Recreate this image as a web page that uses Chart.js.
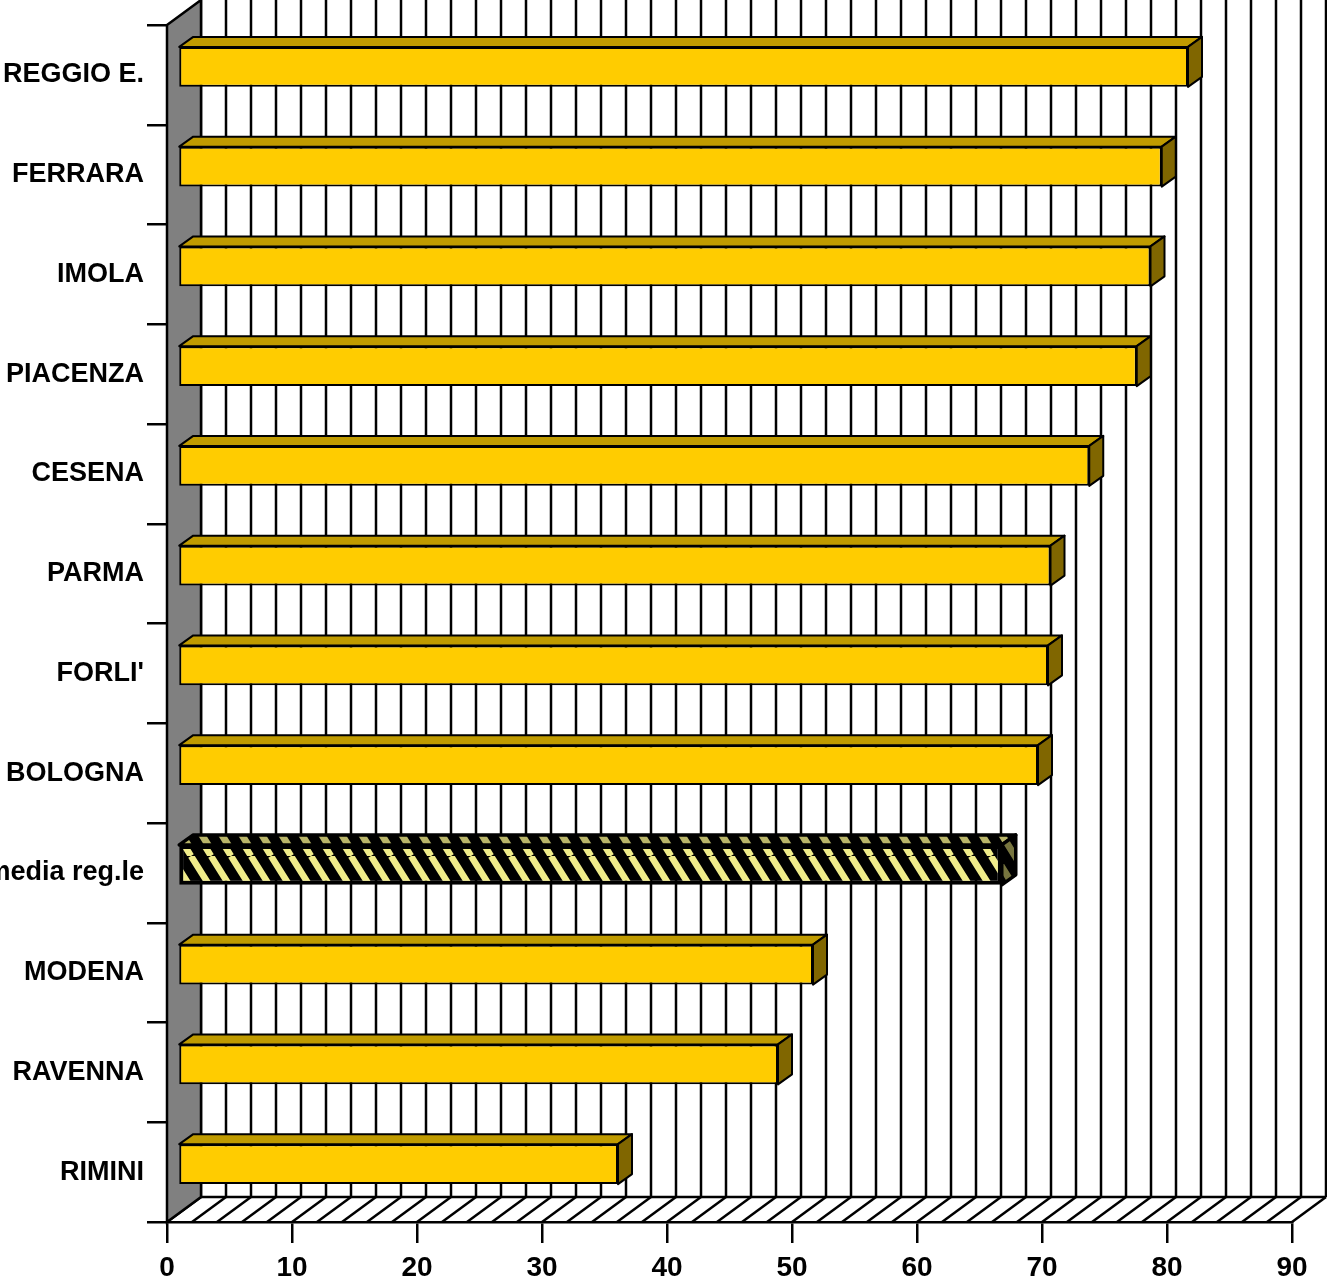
<!DOCTYPE html>
<html>
<head>
<meta charset="utf-8">
<script src="https://cdn.jsdelivr.net/npm/chart.js@4.4.1/dist/chart.umd.min.js"></script>
<style>
  html, body { margin: 0; padding: 0; background: #fff; }
  canvas { display: block; }
</style>
</head>
<body>
<canvas id="myChart" width="1327" height="1285"></canvas>
<script>
// data
const categories = ['REGGIO E.', 'FERRARA', 'IMOLA', 'PIACENZA', 'CESENA', 'PARMA',
  "FORLI'", 'BOLOGNA', 'media reg.le', 'MODENA', 'RAVENNA', 'RIMINI'];
const values = [80.8, 78.7, 77.8, 76.7, 72.9, 69.8, 69.6, 68.8, 65.9, 50.8, 48.0, 35.2];
const xTickValues = [0, 10, 20, 30, 40, 50, 60, 70, 80, 90];
const highlight = 'media reg.le';

// 3d look
const DEPTH_X = 34, DEPTH_Y = 25;      // whole plot depth
const BAR_X = 11, BAR_Y = 8;           // bar front face offset
const FACE_X = 14, FACE_Y = 10;        // bar thickness
const GRID_STEP = 2;

const labelFont = {family: '"Liberation Sans", Arial, sans-serif', size: 27, weight: 'bold'};
const tickFont = {family: '"Liberation Sans", Arial, sans-serif', size: 28, weight: 'bold'};

const stripes = (bg, fg, w) => {
    const c = document.createElement('canvas');
    c.width = 20;
    c.height = 32;
    const g = c.getContext('2d');
    g.fillStyle = bg;
    g.fillRect(0, 0, 20, 32);
    g.strokeStyle = fg;
    g.lineWidth = w;
    g.beginPath();
    for (let k = -20; k <= 40; k += 20) {
        g.moveTo(k, 0);
        g.lineTo(k + 20, 32);
    }
    g.stroke();
    return g.createPattern(c, 'repeat');
};
const frontPattern = stripes('#000', '#f0ec8a', 6.5);
const topPattern = stripes('#000', '#b8b468', 7);
const sidePattern = stripes('#000', '#77753f', 7);

const isHi = (i) => categories[i] === highlight;

const depth3d = {
    id: 'depth3d',
    beforeDatasetsDraw(chart) {
        const ctx = chart.ctx;
        const xs = chart.scales.x;
        const {top, bottom} = chart.chartArea;
        const x0 = xs.getPixelForValue(xs.min);
        const x1 = xs.getPixelForValue(xs.max);
        ctx.save();
        ctx.strokeStyle = '#000';
        ctx.lineWidth = 2.5;
        // back wall grid
        for (let v = xs.min; v <= xs.max; v += GRID_STEP) {
            const x = xs.getPixelForValue(v) + DEPTH_X;
            ctx.beginPath();
            ctx.moveTo(x, top - DEPTH_Y);
            ctx.lineTo(x, bottom - DEPTH_Y);
            ctx.stroke();
        }
        // floor
        ctx.beginPath();
        ctx.moveTo(x0 + DEPTH_X, bottom - DEPTH_Y);
        ctx.lineTo(x1 + DEPTH_X, bottom - DEPTH_Y);
        ctx.stroke();
        for (let v = xs.min; v <= xs.max; v += GRID_STEP) {
            const x = xs.getPixelForValue(v);
            ctx.beginPath();
            ctx.moveTo(x, bottom);
            ctx.lineTo(x + DEPTH_X, bottom - DEPTH_Y);
            ctx.stroke();
        }
        // side wall
        ctx.beginPath();
        ctx.moveTo(x0, top);
        ctx.lineTo(x0 + DEPTH_X, top - DEPTH_Y);
        ctx.lineTo(x0 + DEPTH_X, bottom - DEPTH_Y);
        ctx.lineTo(x0, bottom);
        ctx.closePath();
        ctx.fillStyle = '#808080';
        ctx.fill();
        ctx.stroke();
        ctx.restore();
    },
    beforeDatasetDraw(chart) {
        chart.ctx.save();
        chart.ctx.translate(BAR_X, -BAR_Y);
    },
    afterDatasetDraw(chart) {
        chart.ctx.restore();
    },
    afterDatasetsDraw(chart) {
        const ctx = chart.ctx;
        const meta = chart.getDatasetMeta(0);
        ctx.save();
        ctx.lineJoin = 'round';
        meta.data.forEach((bar, i) => {
            const p = bar.getProps(['x', 'y', 'base', 'height'], true);
            const l = p.base + BAR_X;
            const r = p.x + BAR_X;
            const t = p.y - p.height / 2 - BAR_Y;
            const b = p.y + p.height / 2 - BAR_Y;
            ctx.strokeStyle = '#000';
            ctx.lineWidth = isHi(i) ? 3.5 : 2;
            // top face
            ctx.beginPath();
            ctx.moveTo(l, t);
            ctx.lineTo(l + FACE_X, t - FACE_Y);
            ctx.lineTo(r + FACE_X, t - FACE_Y);
            ctx.lineTo(r, t);
            ctx.closePath();
            ctx.fillStyle = isHi(i) ? topPattern : '#c09b00';
            ctx.fill();
            ctx.stroke();
            // side face
            ctx.beginPath();
            ctx.moveTo(r, t);
            ctx.lineTo(r + FACE_X, t - FACE_Y);
            ctx.lineTo(r + FACE_X, b - FACE_Y);
            ctx.lineTo(r, b);
            ctx.closePath();
            ctx.fillStyle = isHi(i) ? sidePattern : '#806600';
            ctx.fill();
            ctx.stroke();
        });
        ctx.restore();
    }
};

const ctx = document.querySelector('#myChart');
const myChart = new Chart(ctx, {
    type: 'bar',
    data: {
        labels: categories,
        datasets: [{
            data: values,
            backgroundColor: values.map((v, i) => isHi(i) ? frontPattern : '#ffcc00'),
            borderColor: '#000',
            borderWidth: values.map((v, i) => isHi(i) ? 4 : 2),
            borderSkipped: false,
            categoryPercentage: 1,
            barPercentage: 0.4
        }]
    },
    options: {
        indexAxis: 'y',
        responsive: false,
        animation: false,
        devicePixelRatio: 1,
        layout: {padding: {top: 25, right: 35, left: 0, bottom: 0}},
        plugins: {legend: {display: false}, tooltip: {enabled: false}},
        scales: {
            x: {
                min: 0,
                max: 90,
                afterBuildTicks: (scale) => {
                    scale.ticks = xTickValues.map(v => ({value: v}));
                },
                afterFit: (scale) => {
                    scale.height = 63;
                    scale.paddingLeft = 0;
                    scale.paddingRight = 0;
                },
                grid: {drawOnChartArea: false, color: '#000', lineWidth: 2.5, tickLength: 21},
                border: {color: '#000', width: 2.5},
                ticks: {color: '#000', font: tickFont, padding: 8, maxRotation: 0, autoSkip: false}
            },
            y: {
                afterFit: (scale) => {
                    scale.width = 167;
                    scale.paddingTop = 0;
                    scale.paddingBottom = 0;
                },
                grid: {drawOnChartArea: false, color: '#000', lineWidth: 2.5, tickLength: 20, offset: true},
                border: {color: '#000', width: 2.5},
                ticks: {color: '#000', font: labelFont, padding: 3, autoSkip: false}
            }
        }
    },
    plugins: [depth3d]
});
</script>
</body>
</html>
